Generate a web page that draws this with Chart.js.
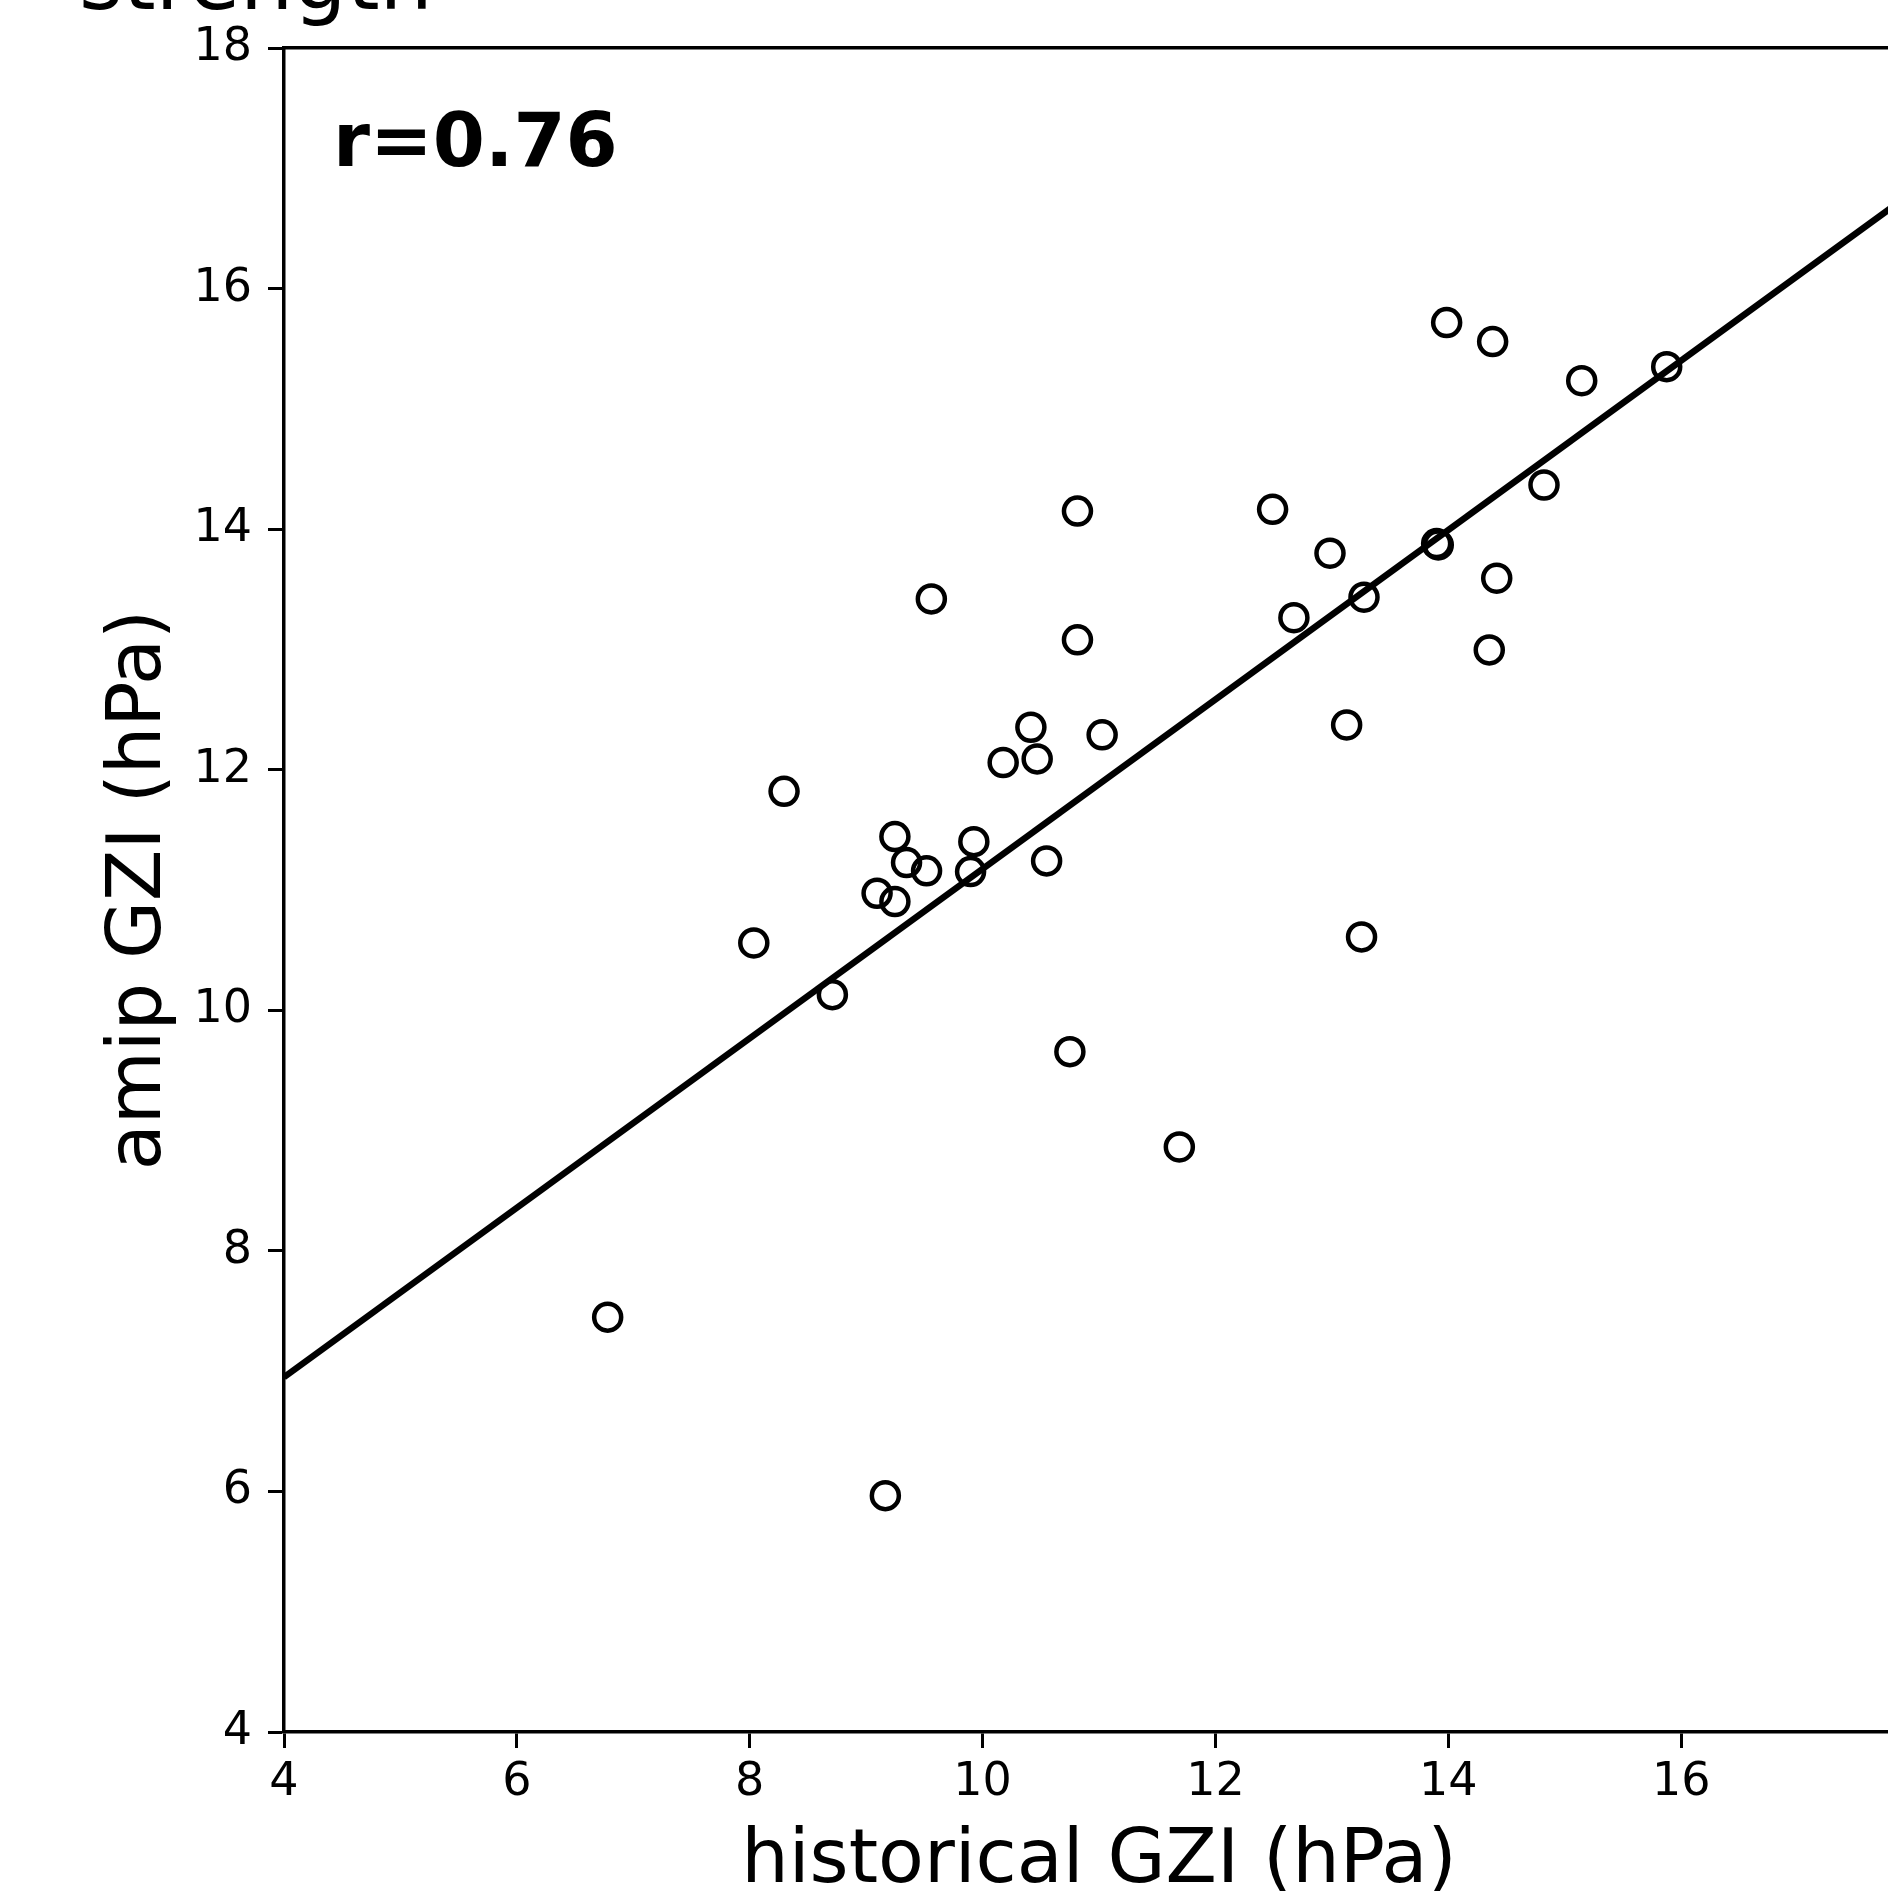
<!DOCTYPE html>
<html>
<head>
<meta charset="utf-8">
<script src="https://cdn.jsdelivr.net/npm/chart.js@4.4.1/dist/chart.umd.min.js"></script>
<style>
  html, body { margin: 0; padding: 0; background: #fff; overflow: hidden; }
  canvas { display: block; }
</style>
</head>
<body>
<canvas id="gzi" width="1990" height="1920"></canvas>
<script>
// historical vs amip GZI, one point per model/member
const histGZI = [6.78, 9.165, 8.035, 8.295, 8.71, 9.094, 9.247, 9.247, 9.347, 9.519,
                 9.56, 9.897, 9.925, 10.177, 10.415, 10.469, 10.55, 10.75, 10.815, 10.815,
                 11.027, 11.69, 12.491, 12.674, 12.984, 13.127, 13.276, 13.255, 13.914, 13.90,
                 13.986, 14.381, 14.352, 14.416, 14.822, 15.146, 15.876];
const amipGZI = [7.449, 5.965, 10.56, 11.82, 10.13, 10.973, 10.904, 11.444, 11.228, 11.159,
                 13.42, 11.153, 11.402, 12.06, 12.353, 12.09, 11.242, 9.656, 13.08, 14.15,
                 12.29, 8.864, 14.165, 13.264, 13.80, 12.372, 13.434, 10.61, 13.869, 13.88,
                 15.717, 15.559, 12.996, 13.592, 14.367, 15.234, 15.351];

// least squares line end points
const fitX = [4, 18];
const fitY = [6.95, 16.81];

const xRange = [4, 18];
const yRange = [4, 18];
const tickStep = 2;

const corrLabel = 'r=0.76';
const titleText = 'strength';
const xTitle = 'historical GZI (hPa)';
const yTitle = 'amip GZI (hPa)';

Chart.defaults.font.family = '"DejaVu Sans"';
Chart.defaults.color = '#000';

const annotate = {
    id: 'annotate',
    afterDraw(chart) {
        const { ctx, chartArea: a } = chart;
        ctx.save();
        ctx.fillStyle = '#000';
        ctx.textBaseline = 'alphabetic';
        ctx.textAlign = 'left';
        ctx.font = 'bold 75px "DejaVu Sans"';
        ctx.fillText(corrLabel, a.left + 0.03 * (a.right - a.left), a.bottom - 0.93 * (a.bottom - a.top));
        ctx.font = '84px "DejaVu Sans"';
        ctx.fillText(titleText, 79, 9);
        ctx.restore();
    }
};

const pts = histGZI.map((x, i) => ({ x: x, y: amipGZI[i] }));
const fit = fitX.map((x, i) => ({ x: x, y: fitY[i] }));

const tickGrid = { drawOnChartArea: false, drawTicks: true, tickLength: 16, tickWidth: 3, tickColor: '#000', color: '#000' };
const axisBorder = { display: true, color: '#000', width: 3.5 };

new Chart(document.getElementById('gzi'), {
    type: 'scatter',
    data: {
        datasets: [
            {
                type: 'line',
                data: fit,
                borderColor: '#000',
                borderWidth: 6.5,
                pointRadius: 0,
                fill: false
            },
            {
                data: pts,
                pointStyle: 'circle',
                pointRadius: 13.5,
                pointBorderWidth: 4.5,
                pointBorderColor: '#000',
                pointBackgroundColor: 'rgba(0,0,0,0)'
            }
        ]
    },
    options: {
        responsive: false,
        animation: false,
        devicePixelRatio: 1,
        layout: { padding: { top: 48, right: 76, left: 0, bottom: 0 } },
        plugins: { legend: { display: false }, tooltip: { enabled: false } },
        scales: {
            x: {
                type: 'linear', position: 'bottom',
                min: xRange[0], max: xRange[1],
                ticks: { stepSize: tickStep, padding: 12, font: { size: 46, lineHeight: 1 }, color: '#000' },
                grid: tickGrid,
                border: axisBorder,
                title: { display: true, text: xTitle, font: { size: 75 }, color: '#000', padding: { top: 0, bottom: 12 } },
                afterFit: s => { s.height = 188; }
            },
            x2: {
                type: 'linear', position: 'top',
                min: xRange[0], max: xRange[1],
                ticks: { display: false },
                grid: { display: false },
                border: axisBorder,
                afterFit: s => { s.height = 0; }
            },
            y: {
                type: 'linear', position: 'left',
                min: yRange[0], max: yRange[1],
                ticks: { stepSize: tickStep, padding: 16, font: { size: 46, lineHeight: 1 }, color: '#000' },
                grid: tickGrid,
                border: axisBorder,
                title: { display: true, text: yTitle, font: { size: 75 }, color: '#000', padding: { top: 96, bottom: 0 } },
                afterFit: s => { s.width = 284; }
            }
        }
    },
    plugins: [annotate]
});
</script>
</body>
</html>
